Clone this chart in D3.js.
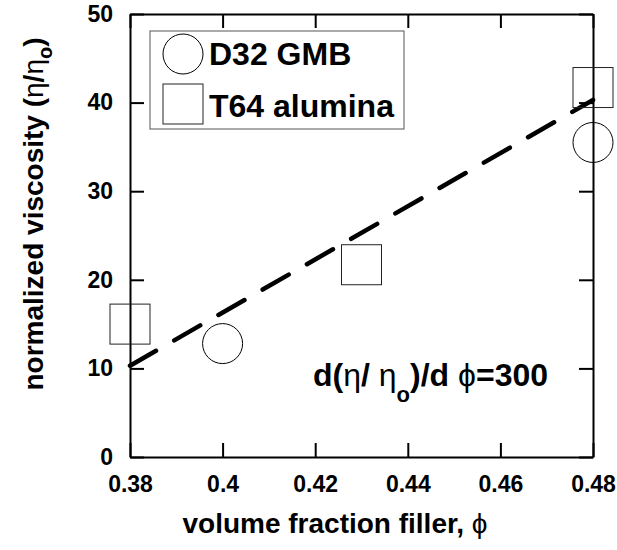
<!DOCTYPE html>
<html>
<head>
<meta charset="utf-8">
<script src="https://cdn.jsdelivr.net/npm/d3@7"></script>
<style>
  html, body { margin: 0; padding: 0; background: #fff; }
  svg { display: block; }
  text { font-family: "Liberation Sans", Arial, Helvetica, sans-serif; }
</style>
</head>
<body>
<svg id="chart" width="617" height="550"></svg>
<script>
// ---- data ----
const gmbPhi  = [0.40, 0.48];
const gmbVisc = [12.8, 35.5];
const t64Phi  = [0.38, 0.43, 0.48];
const t64Visc = [15.0, 21.7, 41.7];
const fitPhi  = [0.38, 0.48];
const fitVisc = [10.3, 40.3];
const xTicks = [0.38, 0.40, 0.42, 0.44, 0.46, 0.48];
const xTickLabels = ["0.38", "0.4", "0.42", "0.44", "0.46", "0.48"];
const yTicks = [0, 10, 20, 30, 40, 50];
const yTickLabels = ["0", "10", "20", "30", "40", "50"];
const legendNames = ["D32 GMB", "T64 alumina"];

// ---- layout ----
const L = 130, R = 593, T = 14, B = 457;
const svg = d3.select("#chart");
const x = d3.scaleLinear().domain([0.38, 0.48]).range([L, R]);
const y = d3.scaleLinear().domain([0, 50]).range([B, T]);

// axes with inward ticks
function styleAxis(g) {
  g.selectAll("path.domain").attr("stroke", "#000").attr("stroke-width", 2);
  g.selectAll(".tick line").attr("stroke", "#000").attr("stroke-width", 2);
  g.selectAll(".tick text").attr("fill", "#000")
    .style("font-family", "'Liberation Sans', Arial, sans-serif")
    .style("font-weight", "bold").style("font-size", "23px");
}
svg.append("g").attr("transform", `translate(0,${B})`)
  .call(d3.axisBottom(x).tickValues(xTicks).tickSizeInner(-14).tickSizeOuter(0).tickPadding(19)
    .tickFormat((d, i) => xTickLabels[i]))
  .call(styleAxis);
svg.append("g").attr("transform", `translate(0,${T})`)
  .call(d3.axisTop(x).tickValues(xTicks).tickSizeInner(-14).tickSizeOuter(0).tickFormat(""))
  .call(styleAxis);
svg.append("g").attr("transform", `translate(${L},0)`)
  .call(d3.axisLeft(y).tickValues(yTicks).tickSizeInner(-14).tickSizeOuter(0).tickPadding(17)
    .tickFormat((d, i) => yTickLabels[i]))
  .call(styleAxis);
svg.append("g").attr("transform", `translate(${R},0)`)
  .call(d3.axisRight(y).tickValues(yTicks).tickSizeInner(-14).tickSizeOuter(0).tickFormat(""))
  .call(styleAxis);

// fit line
svg.append("path")
  .datum(fitPhi.map((p, i) => [p, fitVisc[i]]))
  .attr("d", d3.line().x(d => x(d[0])).y(d => y(d[1])))
  .attr("fill", "none").attr("stroke", "#000").attr("stroke-width", 4.5)
  .attr("stroke-linecap", "round").attr("stroke-dasharray", "30 21");

// markers
const sq = 40, rc = 20;
svg.append("g").selectAll("rect").data(t64Phi.map((p, i) => [p, t64Visc[i]])).join("rect")
  .attr("x", d => x(d[0]) - sq / 2).attr("y", d => y(d[1]) - sq / 2)
  .attr("width", sq).attr("height", sq)
  .attr("fill", "none").attr("stroke", "#222").attr("stroke-width", 1);
svg.append("g").selectAll("circle").data(gmbPhi.map((p, i) => [p, gmbVisc[i]])).join("circle")
  .attr("cx", d => x(d[0])).attr("cy", d => y(d[1])).attr("r", rc)
  .attr("fill", "none").attr("stroke", "#000").attr("stroke-width", 1);

// legend
const lg = svg.append("g");
lg.append("rect").attr("x", 150).attr("y", 31).attr("width", 254).attr("height", 98)
  .attr("fill", "#fff").attr("stroke", "#555").attr("stroke-width", 1);
lg.append("circle").attr("cx", 183).attr("cy", 54).attr("r", rc)
  .attr("fill", "none").attr("stroke", "#000").attr("stroke-width", 1);
lg.append("rect").attr("x", 183 - sq / 2).attr("y", 104 - sq / 2).attr("width", sq).attr("height", sq)
  .attr("fill", "none").attr("stroke", "#222").attr("stroke-width", 1);
lg.selectAll("text").data(legendNames).join("text")
  .attr("x", 209).attr("y", (d, i) => i === 0 ? 65 : 117)
  .style("font-weight", "bold").style("font-size", "32px").text(d => d);

// annotation
const ann = svg.append("text").attr("x", 313).attr("y", 386)
  .style("font-weight", "bold").style("font-size", "32px");
ann.append("tspan").text("d(");
ann.append("tspan").style("font-weight", "normal").text("η");
ann.append("tspan").text("/ ");
ann.append("tspan").style("font-weight", "normal").text("η");
ann.append("tspan").attr("dy", 16).style("font-size", "22px").text("o");
ann.append("tspan").attr("dy", -16).text(")/d ");
ann.append("tspan").style("font-weight", "normal").text("ϕ");
ann.append("tspan").text("=300");

// axis titles
const xt = svg.append("text").attr("x", 335).attr("y", 533).attr("text-anchor", "middle")
  .style("font-weight", "bold").style("font-size", "28px");
xt.append("tspan").text("volume fraction filler, ");
xt.append("tspan").style("font-weight", "normal").text("ϕ");

const yt = svg.append("text").attr("transform", "translate(43,214) rotate(-90)").attr("text-anchor", "middle")
  .style("font-weight", "bold").style("font-size", "28px");
yt.append("tspan").text("normalized viscosity (");
yt.append("tspan").style("font-weight", "normal").text("η");
yt.append("tspan").text("/");
yt.append("tspan").style("font-weight", "normal").text("η");
yt.append("tspan").attr("dy", 9).style("font-size", "20px").text("o");
yt.append("tspan").attr("dy", -9).text(")");
</script>
</body>
</html>
